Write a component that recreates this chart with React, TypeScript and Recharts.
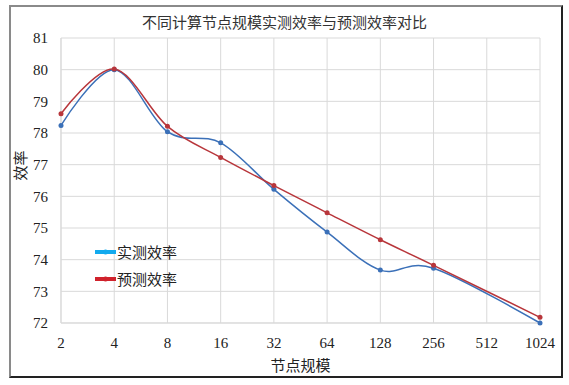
import { CartesianGrid, Legend, Line, LineChart, XAxis, YAxis } from "recharts";

const nodeCounts = ["2", "4", "8", "16", "32", "64", "128", "256", "512", "1024"];
const measured = [78.24, 80.0, 78.04, 77.69, 76.22, 74.87, 73.67, 73.73, null, 72.0];
const predicted = [78.61, 80.02, 78.21, 77.23, 76.34, 75.48, 74.63, 73.82, null, 72.18];
const yTicks = [72, 73, 74, 75, 76, 77, 78, 79, 80, 81];
const seriesNames = ["实测效率", "预测效率"];

const lineColors = ["#3b70b8", "#b8363b"];
const swatchColors = ["#12aaee", "#d0222c"];
const serif = "'Liberation Serif', 'Times New Roman', 'DejaVu Serif', 'Noto Sans CJK SC', serif";

const chartData = nodeCounts.map((n, i) => ({
  nodes: n,
  measured: measured[i],
  predicted: predicted[i],
}));

// Excel-style smoothed line: Catmull-Rom (cardinal curve with tension 0).
const smoothCurve = (context: any) => {
  const k = 1 / 6;
  let x0 = NaN, x1 = NaN, x2 = NaN, y0 = NaN, y1 = NaN, y2 = NaN;
  let pt = 0;
  let line = NaN;
  const seg = (x: number, y: number) => {
    context.bezierCurveTo(
      x1 + k * (x2 - x0),
      y1 + k * (y2 - y0),
      x2 + k * (x1 - x),
      y2 + k * (y1 - y),
      x2,
      y2
    );
  };
  return {
    areaStart() { line = 0; },
    areaEnd() { line = NaN; },
    lineStart() {
      x0 = x1 = x2 = y0 = y1 = y2 = NaN;
      pt = 0;
    },
    lineEnd() {
      if (pt === 2) context.lineTo(x2, y2);
      else if (pt === 3) seg(x1, y1);
      if (line || (line !== 0 && pt === 1)) context.closePath();
      line = 1 - line;
    },
    point(x: number, y: number) {
      x = +x;
      y = +y;
      if (pt === 0) {
        pt = 1;
        if (line) context.lineTo(x, y);
        else context.moveTo(x, y);
      } else if (pt === 1) {
        pt = 2;
        x1 = x;
        y1 = y;
      } else {
        pt = 3;
        seg(x, y);
      }
      x0 = x1; x1 = x2; x2 = x;
      y0 = y1; y1 = y2; y2 = y;
    },
  };
};

const LegendBox = () => (
  <div style={{ fontFamily: serif }}>
    {seriesNames.map((name, i) => (
      <div key={name} style={{ display: "flex", alignItems: "center", height: 27 }}>
        <svg width={21} height={10}>
          <line x1={0} y1={5} x2={21} y2={5} stroke={swatchColors[i]} strokeWidth={4} />
          <circle cx={10.5} cy={5} r={2.5} fill={swatchColors[i]} />
        </svg>
        <span style={{ fontSize: 15, color: "#222", marginLeft: 1 }}>{name}</span>
      </div>
    ))}
  </div>
);

const tickStyle = { fill: "#222", fontSize: 15, fontFamily: serif, style: { fontFamily: serif } };

const App = () => {
  return (
    <div
      style={{
        position: "absolute",
        left: 0,
        top: 0,
        width: 569,
        height: 385,
        background: "#fff",
        fontFamily: serif,
      }}
    >
      <div
        style={{
          position: "absolute",
          left: 9,
          top: 5,
          width: 550,
          height: 369,
          borderTop: "2px solid #8a8a8a",
          borderLeft: "2px solid #8a8a8a",
          borderRight: "2px solid #222",
          borderBottom: "2px solid #222",
        }}
      />
      <div
        style={{
          position: "absolute",
          left: 0,
          top: 11,
          width: 569,
          textAlign: "center",
          fontSize: 15,
          color: "#333",
        }}
      >
        不同计算节点规模实测效率与预测效率对比
      </div>
      <div style={{ position: "absolute", left: 0, top: 0 }}>
        <LineChart
          width={569}
          height={385}
          data={chartData}
          style={{ fontFamily: serif }}
          margin={{ top: 38, right: 29, bottom: 32, left: 11 }}
        >
          <CartesianGrid stroke="#d9d9d9" strokeWidth={1} />
          <XAxis
            dataKey="nodes"
            axisLine={{ stroke: "#d9d9d9" }}
            tickLine={false}
            tickSize={6}
            tickMargin={8}
            height={30}
            interval={0}
            tick={tickStyle}
            label={{ value: "节点规模", position: "insideBottom", offset: -18, fill: "#222", fontSize: 15, fontFamily: serif }}
          />
          <YAxis
            domain={[72, 81]}
            ticks={yTicks}
            axisLine={{ stroke: "#d9d9d9" }}
            tickLine={false}
            tickSize={6}
            tickMargin={7}
            width={50}
            tick={tickStyle}
            label={{ value: "效率", angle: -90, position: "insideLeft", offset: 10, fill: "#222", fontSize: 15, fontFamily: serif }}
          />
          <Legend
            layout="vertical"
            align="center"
            verticalAlign="middle"
            wrapperStyle={{ left: 95, top: 238, width: 120 }}
            content={() => <LegendBox />}
          />
          <Line
            type={smoothCurve as any}
            dataKey="measured"
            name={seriesNames[0]}
            stroke={lineColors[0]}
            strokeWidth={1.5}
            dot={{ r: 2.5, fill: lineColors[0], stroke: lineColors[0], strokeWidth: 0 }}
            activeDot={false}
            connectNulls
            isAnimationActive={false}
          />
          <Line
            type={smoothCurve as any}
            dataKey="predicted"
            name={seriesNames[1]}
            stroke={lineColors[1]}
            strokeWidth={1.5}
            dot={{ r: 2.5, fill: lineColors[1], stroke: lineColors[1], strokeWidth: 0 }}
            activeDot={false}
            connectNulls
            isAnimationActive={false}
          />
        </LineChart>
      </div>
    </div>
  );
};

export default App;
